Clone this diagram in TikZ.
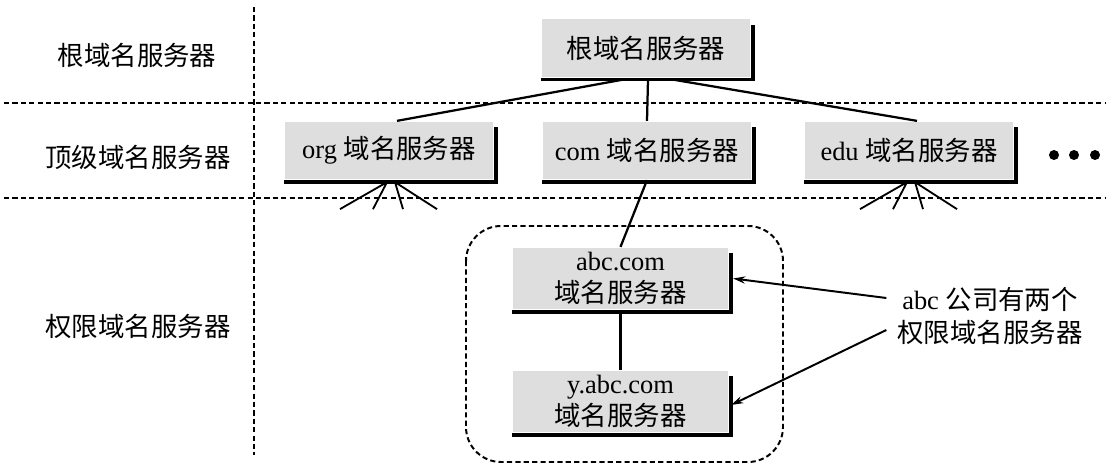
\documentclass[tikz,border=0pt]{standalone}
\usepackage{fontspec}
\setmainfont{Liberation Serif}
\newfontfamily\CJKFont{Noto Sans CJK SC}
\usetikzlibrary{calc,arrows.meta}

\newcommand\LabelFont{\fontsize{18.8}{23}\selectfont}

\begin{document}
\begin{tikzpicture}[x=0.025cm, y=-0.025cm, line width=1.6pt,
	ServerBox/.style={fill=fillcolor, inner sep=0pt, minimum width=52mm, minimum height=14.25mm, align=center, font=\LabelFont},
	ZoneBox/.style={ServerBox, minimum width=53.75mm, minimum height=15.25mm},
	ShadowLine/.style={line width=2.4pt, line cap=rect},
	HelpLine/.style={line width=1.4pt, dash pattern=on 1.3mm off 0.8mm},
	NoteArrow/.style={-{Stealth[length=3mm, width=1.8mm]}, line width=1.4pt}]

% ---------- Colours ----------
\colorlet{fillcolor}{black!13}

% (0,0) = upper left corner of the picture, one unit = one pixel, y pointing down
\useasboundingbox (0,0) rectangle (1109,472);

% ---------- Dividing lines ----------
\draw[HelpLine] (254,7) -- (254,455);
\foreach \y in {103,198}{
	\draw[HelpLine] (4,\y) -- (1105,\y);
}

% ---------- Level names on the left ----------
\node[font=\LabelFont] (rootlevel) at (137,55) {\CJKFont 根域名服务器};
\node[font=\LabelFont] (toplevel) at (138,157) {\CJKFont 顶级域名服务器};
\node[font=\LabelFont] (authlevel) at (138,326) {\CJKFont 权限域名服务器};

% ---------- Servers ----------
\node[ServerBox] (root) at (646,48) {\CJKFont 根域名服务器};
\node[ServerBox] (org) at (389,150.5) {org {\CJKFont 域名服务器}};
\node[ServerBox] (com) at (647,150.5) {com {\CJKFont 域名服务器}};
\node[ServerBox] (edu) at (909,150.5) {edu {\CJKFont 域名服务器}};
\node[ZoneBox] (abc) at (620.5,278.5) {abc.com\\{\CJKFont 域名服务器}};
\node[ZoneBox] (yabc) at (620.5,401.5) {y.abc.com\\{\CJKFont 域名服务器}};

% Shadow on the right and bottom of every box
\foreach \n in {root,org,com,edu,abc,yabc}{
	\draw[ShadowLine] ($(\n.north east)+(2,8)$) |- ($(\n.south west)+(2,2)$);
}

% ---------- More top level servers ----------
\foreach \x in {1054,1074,1095}{
	\fill (\x,155) circle[radius=1.25mm];
}

% ---------- Tree ----------
\draw ($(root.south)+(-23,2)$) -- ($(org.north)+(8,0)$);
\draw ($(root.south)+(2,2)$) -- (com.north);
\draw ($(root.south)+(27,2)$) -- ($(edu.north)+(8,0)$);
\draw (com.south) -- (abc.north);
\draw (abc.south) -- (yabc.north);

% Lines to lower servers, not shown
\foreach \n in {org,edu}{
	\draw[line width=1.3pt] ($(\n.south)+(-2,2)$) -- ++(-47,27) ($(\n.south)+(-2,2)$) -- ++(-14,27)
		($(\n.south)+(6,2)$) -- ++(8,27) ($(\n.south)+(6,2)$) -- ++(42,27);
}

% ---------- Zone of abc.com ----------
\draw[HelpLine, rounded corners=8.75mm] (466,226) rectangle (783,462);

% ---------- Note ----------
\node[font=\LabelFont, align=center, inner sep=0pt] (note) at (990,316) {abc {\CJKFont 公司有两个}\\{\CJKFont 权限域名服务器}};
\draw[NoteArrow] ($(note.west)+(-10,-18)$) -- ($(abc.east)+(4,0)$);
\draw[NoteArrow] ($(note.west)+(-10,14)$) -- ($(yabc.east)+(2,3.5)$);

\end{tikzpicture}
\end{document}
